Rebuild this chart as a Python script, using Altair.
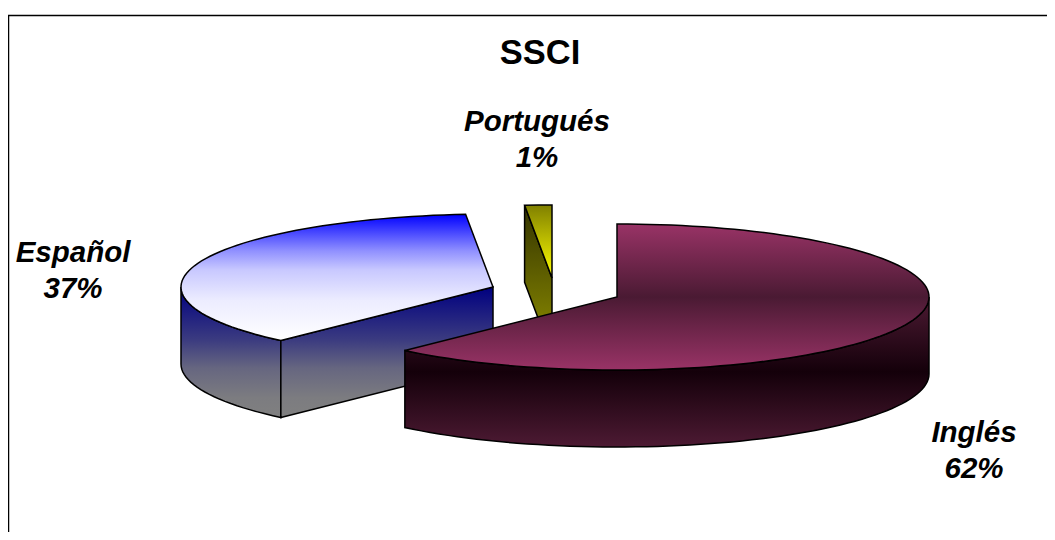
import math
import altair as alt

TITLE = "SSCI"
LANGS = ["Inglés", "Español", "Portugués"]
SHARES = [61.9, 36.7, 1.4]

# layout (page pixels)
RX, RY, DEPTH = 312, 73, 77
APEX = {"Inglés": (617, 297), "Español": (493, 287), "Portugués": (552, 278)}
LABEL_POS = {"Inglés": (974, 433), "Español": (73, 253), "Portugués": (537, 122)}
OFF = 8


def grad(*stops):
    return alt.Gradient(
        gradient="linear", x1=0, x2=0, y1=0, y2=1,
        stops=[alt.GradientStop(offset=o, color=c) for o, c in stops],
    )


# angles clockwise from 12 o'clock
start = {}
acc = 0.0
for lang, s in zip(LANGS, SHARES):
    start[lang] = (acc, acc + s * 3.6)
    acc += s * 3.6


def rim(lang, a0, a1, dy=0):
    cx, cy = APEX[lang]
    n = max(2, int(abs(a1 - a0) / 2))
    return [
        [cx + RX * math.sin(math.radians(a0 + (a1 - a0) * i / n)),
         cy - RY * math.cos(math.radians(a0 + (a1 - a0) * i / n)) + dy]
        for i in range(n + 1)
    ]


def wedge(lang):
    a0, a1 = start[lang]
    return rim(lang, a0, a1) + [list(APEX[lang])]


def wall(lang, a0, a1):
    return rim(lang, a0, a1) + rim(lang, a1, a0, DEPTH)


def cut(lang, a):
    cx, cy = APEX[lang]
    p = rim(lang, a, a)[0]
    return [p, [cx, cy], [cx, cy + DEPTH], [p[0], p[1] + DEPTH]]


def shape(pts, fill):
    feature = {
        "type": "Feature", "properties": {},
        "geometry": {"type": "Polygon", "coordinates": [pts + [pts[0]]]},
    }
    return (
        alt.Chart(alt.Data(values=[feature]))
        .mark_geoshape(fill=fill, stroke="black", strokeWidth=1.5, strokeJoin="miter")
        .project(type="identity", scale=1, translate=[-OFF, -OFF])
    )


frame_feature = {
    "type": "Feature", "properties": {},
    "geometry": {"type": "LineString", "coordinates": [[8.5, 560], [8.5, 15.5], [1075, 15.5]]},
}
frame = (
    alt.Chart(alt.Data(values=[frame_feature]))
    .mark_geoshape(filled=False, stroke="black", strokeWidth=1.5)
    .project(type="identity", scale=1, translate=[-OFF, -OFF])
)

ES0, ES1 = start["Español"]
PT0, PT1 = start["Portugués"]
EN0, EN1 = start["Inglés"]

side_es = grad((0, "#000080"), (0.41, "#3c3c80"), (0.62, "#666680"), (0.85, "#7c7c80"), (1, "#808080"))
layers = [
    frame,
    shape(wall("Español", ES0, 270), side_es),
    shape(cut("Español", ES0), side_es),
    shape(wedge("Español"), grad((0, "#0000ff"), (0.29, "#9090ff"), (0.44, "#c8c8ff"), (0.68, "#ececff"), (1, "#ffffff"))),
    shape(cut("Portugués", PT0), grad((0, "#333300"), (1, "#929200"))),
    shape(wedge("Portugués"), grad((0, "#808000"), (1, "#ffff00"))),
    shape(wall("Inglés", 90, EN1), grad((0, "#4d1a33"), (0.5, "#14000a"), (1, "#4d1a33"))),
    shape(wedge("Inglés"), grad((0, "#993366"), (0.5, "#4a1a33"), (1, "#993366"))),
]

label_rows = []
for lang, s in zip(LANGS, SHARES):
    x, y = LABEL_POS[lang]
    label_rows.append({"t": lang, "x": x, "y": y})
    label_rows.append({"t": f"{round(s)}%", "x": x, "y": y + 35.5})


def text_layer(row, **kw):
    return (
        alt.Chart(alt.Data(values=[row]))
        .mark_text(font="Liberation Sans", fontWeight="bold", baseline="middle", align="center", color="black", **kw)
        .encode(text="t:N", x=alt.value(row["x"] - OFF), y=alt.value(row["y"] - OFF))
    )


layers += [text_layer(r, fontStyle="italic", fontSize=29.5) for r in label_rows]
layers.append(text_layer({"t": TITLE, "x": 540, "y": 54}, fontSize=34.5))

chart = (
    alt.layer(*layers)
    .properties(width=1039, height=524, padding=0, autosize=alt.AutoSizeParams(type="none"), background="white")
    .configure_view(stroke=None)
)
chart.save("out.html", embed_options={"renderer": "svg", "actions": False})
